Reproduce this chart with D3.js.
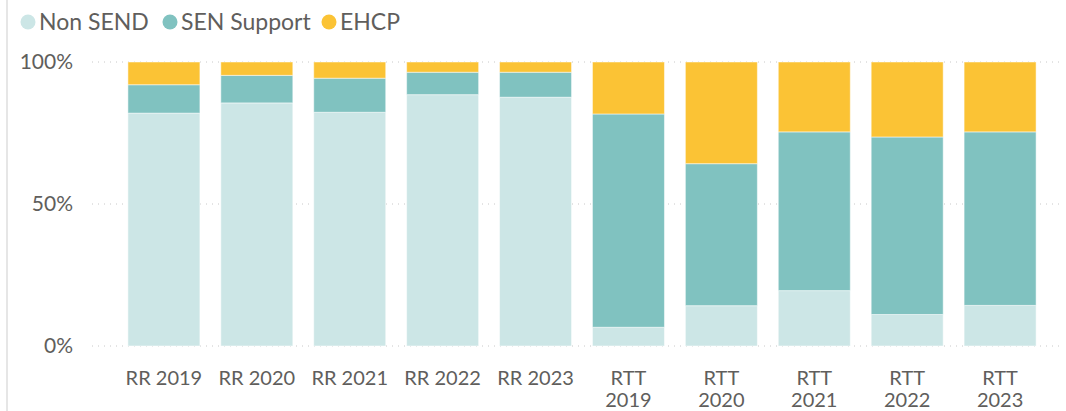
<!DOCTYPE html>
<html>
<head>
<meta charset="utf-8">
<script src="https://cdn.jsdelivr.net/npm/d3@7"></script>
<style>
body{margin:0;background:#fff;}
text{font-family:"Segoe UI",Lato,sans-serif;fill:#605e5c;}
</style>
</head>
<body>
<div id="chart"></div>
<script>
var width=1066, height=411;

// data (percent of pupils)
var categories=["RR 2019","RR 2020","RR 2021","RR 2022","RR 2023","RTT 2019","RTT 2020","RTT 2021","RTT 2022","RTT 2023"];
var nonSend=[82.0,85.6,82.3,88.5,87.6,6.6,14.2,19.5,11.1,14.3];
var senSupport=[10.0,9.7,12.0,7.9,8.8,75.1,50.0,55.9,62.5,61.1];
var ehcp=[8.0,4.7,5.7,3.6,3.6,18.3,35.8,24.6,26.4,24.6];
var seriesNames=["Non SEND","SEN Support","EHCP"];
var seriesColors=["#cce6e6","#80c2c0","#fbc335"];
var yTicks=[0,0.5,1];

var fontFam="'Segoe UI',Lato,sans-serif";

var rows=categories.map(function(c,i){
  return {cat:c,"Non SEND":nonSend[i]/100,"SEN Support":senSupport[i]/100,"EHCP":ehcp[i]/100};
});
var stacked=d3.stack().keys(seriesNames)(rows);

var svg=d3.select("#chart").append("svg")
  .attr("width",width).attr("height",height);

// thin frame line on the left
svg.append("line").attr("x1",7).attr("x2",7).attr("y1",0).attr("y2",height)
  .attr("stroke","#e6e6e6").attr("stroke-width",2);

var x=d3.scaleBand().domain(categories).range([107,1057]).paddingInner(0.225).paddingOuter(0.225);
var y=d3.scaleLinear().domain([0,1]).range([346,62]);

// gridlines
svg.append("g").selectAll("line").data(yTicks).enter().append("line")
  .attr("x1",92).attr("x2",1060)
  .attr("y1",function(d){return y(d);}).attr("y2",function(d){return y(d);})
  .attr("stroke","#c8c8c8").attr("stroke-width",1).attr("stroke-dasharray","1,5");

// y labels
var yAxis=svg.append("g").attr("transform","translate(73,0)")
  .call(d3.axisLeft(y).tickValues(yTicks).tickFormat(d3.format(".0%")).tickSize(0).tickPadding(0));
yAxis.select(".domain").remove();
yAxis.selectAll("text").style("font-size","21px").attr("fill","#605e5c")
  .style("font-family",fontFam);

// bars
svg.append("g").selectAll("g").data(stacked).enter().append("g")
  .attr("fill",function(d,i){return seriesColors[i];})
  .selectAll("rect").data(function(d){return d;}).enter().append("rect")
  .attr("x",function(d){return x(d.data.cat);})
  .attr("y",function(d){return y(d[1]);})
  .attr("width",x.bandwidth())
  .attr("height",function(d){return y(d[0])-y(d[1]);})
  .attr("stroke","#ffffff").attr("stroke-opacity",0.5).attr("stroke-width",1);

// x labels, wrapped onto a second line when too wide
var xAxis=svg.append("g").attr("transform","translate(0,0)")
  .call(d3.axisBottom(x).tickSize(0).tickPadding(0));
xAxis.select(".domain").remove();
xAxis.selectAll("text").style("font-size","20px").attr("fill","#605e5c")
  .style("font-family",fontFam)
  .attr("y",385).attr("dy",0)
  .each(function(d){
    if(this.getComputedTextLength()>80){
      var parts=d.split(" ");
      d3.select(this).text(parts[0]);
      d3.select(this.parentNode).append("text")
        .attr("fill","#605e5c").attr("y",407)
        .style("font-size","20px")
        .style("font-family",fontFam)
        .text(parts.slice(1).join(" "));
    }
  });

// legend
var legend=svg.append("g").attr("transform","translate(0,22)");
var lx=[28,170,329];
seriesNames.forEach(function(s,i){
  legend.append("circle").attr("cx",lx[i]).attr("cy",0).attr("r",7.5).attr("fill",seriesColors[i]);
  legend.append("text").attr("x",lx[i]+11).attr("y",0).attr("dy","0.35em")
    .style("font-size","23px").text(s);
});
</script>
</body>
</html>
